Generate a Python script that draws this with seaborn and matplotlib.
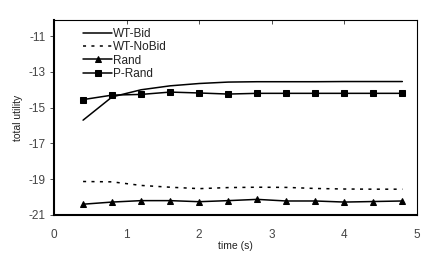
import numpy as np
import pandas as pd
import seaborn as sns
import matplotlib.pyplot as plt

# time axis (s)
time_s = [0.4, 0.8, 1.2, 1.6, 2.0, 2.4, 2.8, 3.2, 3.6, 4.0, 4.4, 4.8]

wt_bid = [-15.7, -14.4, -14.0, -13.78, -13.65, -13.57, -13.55, -13.55, -13.55, -13.54, -13.54, -13.54]
wt_nobid = [-19.13, -19.15, -19.35, -19.45, -19.53, -19.47, -19.45, -19.46, -19.52, -19.55, -19.56, -19.56]
rand = [-20.4, -20.28, -20.2, -20.2, -20.26, -20.2, -20.13, -20.22, -20.22, -20.28, -20.25, -20.22]
p_rand = [-14.55, -14.3, -14.26, -14.13, -14.18, -14.24, -14.2, -14.2, -14.2, -14.2, -14.2, -14.2]

series = {
    "WT-Bid": wt_bid,
    "WT-NoBid": wt_nobid,
    "Rand": rand,
    "P-Rand": p_rand,
}
styles = {
    "WT-Bid": dict(linestyle="-", marker=None),
    "WT-NoBid": dict(linestyle=(0, (2, 3.5)), marker=None),
    "Rand": dict(linestyle="-", marker="^"),
    "P-Rand": dict(linestyle="-", marker="s"),
}

sns.set_style("white")
plt.rcParams["font.family"] = ["Liberation Sans", "DejaVu Sans"]
plt.rcParams["axes.unicode_minus"] = False

fig = plt.figure(figsize=(4.43, 2.67), dpi=100)
ax = fig.add_axes([0.122, 0.195, 0.819, 0.730])

for name, vals in series.items():
    df = pd.DataFrame({"t": time_s, "u": vals})
    st = styles[name]
    sns.lineplot(data=df, x="t", y="u", ax=ax, color="black", linewidth=1.1,
                 linestyle=st["linestyle"], marker=st["marker"], markersize=4,
                 markeredgecolor="black", label=name)

ax.set_xlim(0, 5)
ax.set_ylim(-21, -10.1)
ax.set_xticks([0, 1, 2, 3, 4, 5])
ax.set_yticks([-21, -19, -17, -15, -13, -11])
ax.set_xlabel("time (s)", fontsize=7.5, labelpad=0, color="#222222")
ax.set_ylabel("total utility", fontsize=7.5, labelpad=4, color="#222222")

ax.tick_params(axis="x", top=True, bottom=False, direction="in", length=3,
               width=0.6, labelsize=8.5, pad=10, colors="#333333")
ax.tick_params(axis="y", left=True, direction="out", length=3, width=0.6,
               labelsize=8.5, pad=3, colors="#333333")
for t in ax.get_xticklabels() + ax.get_yticklabels():
    t.set_color("#444444")

for side in ["left", "bottom"]:
    ax.spines[side].set_linewidth(1.5)
for side in ["top", "right"]:
    ax.spines[side].set_linewidth(0.8)
for sp in ax.spines.values():
    sp.set_color("black")
    sp.set_visible(True)

leg = ax.legend(loc="upper left", bbox_to_anchor=(0.06, 1.0), frameon=False,
                fontsize=8.5, handlelength=2.4, handletextpad=0.1,
                labelspacing=0.12, borderaxespad=0.25)
for t in leg.get_texts():
    t.set_color("#222222")

fig.savefig("out.png", dpi=100)
